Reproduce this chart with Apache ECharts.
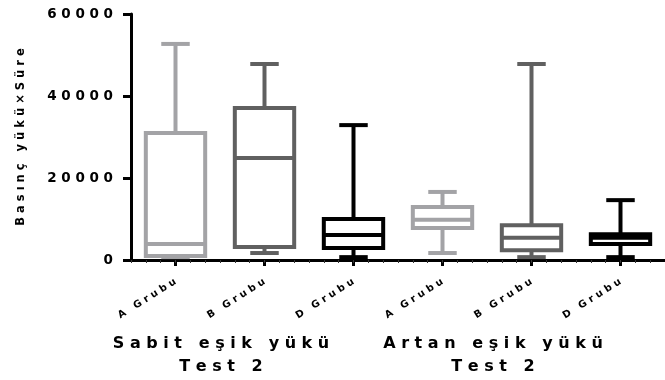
<!DOCTYPE html>
<html>
<head>
<meta charset="utf-8">
<script src="https://cdn.jsdelivr.net/npm/echarts@6/dist/echarts.min.js"></script>
<style>
  html, body { margin: 0; padding: 0; background: #ffffff; }
  #chart { width: 665px; height: 380px; }
</style>
</head>
<body>
<div id="chart"></div>
<script>
// Groups along the x axis (two test sections of three groups each)
const groupLabels = ['A Grubu', 'B Grubu', 'D Grubu', 'A Grubu', 'B Grubu', 'D Grubu'];
const sectionTitles = [['Sabit eşik yükü', 'Test 2'], ['Artan eşik yükü', 'Test 2']];
const yTicks = [0, 20000, 40000, 60000];
const yTitle = 'Basınç yükü×Süre';

// Box-and-whisker values (min, Q1, median, Q3, max) per group
const whiskerLow  = [700,   1700,  700,   1700,  700,   700];
const q1          = [1000,  3200,  2900,  7800,  2400,  3900];
const median      = [3900,  24900, 6100,  9800,  5400,  5400];
const q3          = [31000, 37100, 10000, 12900, 8500,  6300];
const whiskerHigh = [52700, 47800, 32900, 16600, 47800, 14600];

// Styling
const boxColors = ['#a3a3a6', '#606060', '#000000', '#a3a3a6', '#606060', '#000000'];
const FONT = 'DejaVu Sans';
const MINOR_STEPS = 36; // small tick marks along the x axis line

// Widely tracked lettering: a space between letters, a wider gap between words
function spaced(s) {
  return String(s).split(' ').map(w => Array.from(w).join(' ')).join('   ');
}

const boxData = groupLabels.map((_, i) => [i, whiskerLow[i], q1[i], median[i], q3[i], whiskerHigh[i]]);

const chart = echarts.init(document.getElementById('chart'), null, { renderer: 'canvas' });

function sectionText(cx, cy, text) {
  return {
    type: 'text', x: cx, y: cy,
    style: { text: spaced(text), fill: '#000', font: 'bold 16px "DejaVu Sans"', align: 'center', verticalAlign: 'middle' }
  };
}

chart.setOption({
  animation: false,
  backgroundColor: '#ffffff',
  grid: { left: 131, top: 14, width: 540, height: 246, containLabel: false },
  xAxis: [{
    type: 'category',
    data: groupLabels,
    boundaryGap: true,
    axisLine: { show: true, lineStyle: { color: '#000', width: 3 } },
    axisTick: { show: true, alignWithLabel: true, length: 6, lineStyle: { color: '#000', width: 3 } },
    axisLabel: {
      interval: 0,
      rotate: 32,
      margin: 21,
      color: '#000',
      fontFamily: FONT,
      fontWeight: 'bold',
      fontSize: 10,
      formatter: v => spaced(v)
    },
    splitLine: { show: false }
  }, {
    // minor tick marks only
    type: 'category',
    position: 'bottom',
    data: Array.from({ length: MINOR_STEPS }, () => ''),
    boundaryGap: true,
    axisLine: { show: false },
    axisTick: { show: true, interval: 0, length: 3, lineStyle: { color: '#333', width: 1 } },
    axisLabel: { show: false },
    splitLine: { show: false }
  }],
  yAxis: {
    type: 'value',
    min: 0,
    max: 60000,
    interval: 20000,
    name: spaced(yTitle),
    nameLocation: 'middle',
    nameRotate: 90,
    nameGap: 104,
    nameTextStyle: { color: '#000', fontFamily: FONT, fontWeight: 'bold', fontSize: 11.5 },
    axisLine: { show: true, lineStyle: { color: '#000', width: 3 } },
    axisTick: { show: true, length: 8, lineStyle: { color: '#000', width: 3 } },
    axisLabel: {
      margin: 18,
      color: '#000',
      fontFamily: FONT,
      fontWeight: 'bold',
      fontSize: 13.5,
      formatter: v => yTicks.includes(v) ? spaced(v) : ''
    },
    splitLine: { show: false }
  },
  series: [{
    type: 'custom',
    xAxisIndex: 0,
    data: boxData,
    encode: { x: 0, y: [1, 2, 3, 4, 5] },
    clip: false,
    renderItem: function (params, api) {
      const i = api.value(0);
      const x = api.coord([i, 0])[0];
      const band = api.size([1, 0])[0];
      const bw = band * 0.667;
      const cw = band * 0.32;
      const yLo = api.coord([i, api.value(1)])[1];
      const yQ1 = api.coord([i, api.value(2)])[1];
      const yMed = api.coord([i, api.value(3)])[1];
      const yQ3 = api.coord([i, api.value(4)])[1];
      const yHi = api.coord([i, api.value(5)])[1];
      const c = boxColors[i];
      const st = { stroke: c, lineWidth: 4, fill: null };
      return {
        type: 'group',
        children: [
          { type: 'line', shape: { x1: x, y1: yHi, x2: x, y2: yQ3 }, style: st },
          { type: 'line', shape: { x1: x, y1: yQ1, x2: x, y2: yLo }, style: st },
          { type: 'line', shape: { x1: x - cw / 2, y1: yHi, x2: x + cw / 2, y2: yHi }, style: st },
          { type: 'line', shape: { x1: x - cw / 2, y1: yLo, x2: x + cw / 2, y2: yLo }, style: st },
          { type: 'rect', shape: { x: x - bw / 2, y: yQ3, width: bw, height: yQ1 - yQ3 },
            style: { stroke: c, lineWidth: 4, fill: '#ffffff' } },
          { type: 'line', shape: { x1: x - bw / 2, y1: yMed, x2: x + bw / 2, y2: yMed }, style: st }
        ]
      };
    }
  }],
  graphic: [
    sectionText(221, 344, sectionTitles[0][0]),
    sectionText(221, 367, sectionTitles[0][1]),
    sectionText(493, 344, sectionTitles[1][0]),
    sectionText(493, 367, sectionTitles[1][1])
  ]
});
</script>
</body>
</html>
